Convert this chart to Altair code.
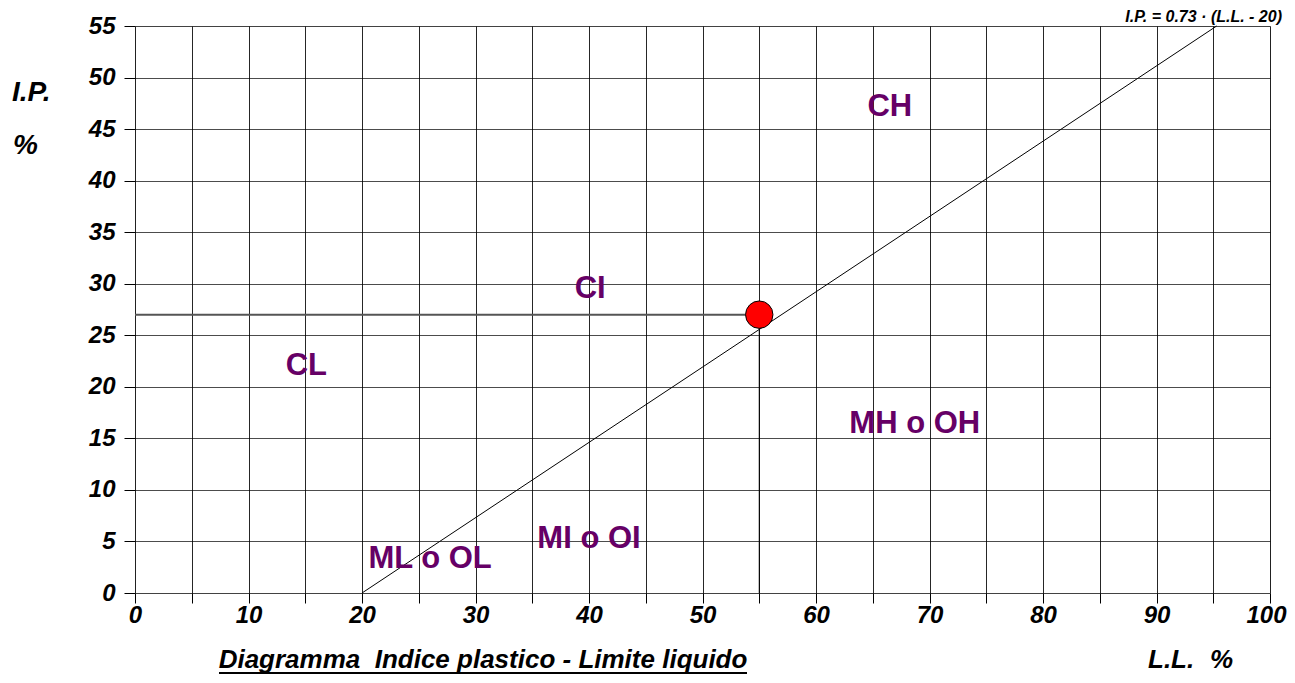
import altair as alt
import pandas as pd

# Casagrande plasticity chart data
a_line_ll = [20, 95.3]
a_line_ip = [0, 55]
sample_ll = [55]
sample_ip = [27]
zone_labels = ["CH", "CI", "CL", "MH o OH", "MI o OI", "ML o OL"]
zone_ll = [66.5, 40.1, 15.1, 68.7, 40.0, 26.0]
zone_ip = [47.1, 29.5, 22.0, 16.4, 5.2, 3.3]
x_ticks = list(range(0, 101, 5))
y_ticks = [i * 2.5 for i in range(0, 23)]

W, H = 1135, 567
FONT = "Liberation Sans"
PURPLE = "#660066"

xs = alt.Scale(domain=[0, 100], nice=False, zero=False)
ys = alt.Scale(domain=[0, 55], nice=False, zero=False)

x_axis = alt.Axis(values=x_ticks, grid=True, gridColor="#000", gridWidth=1, gridOpacity=0.85,
                  tickColor="#000", tickSize=10, tickWidth=1, domain=False,
                  labelExpr="datum.value % 10 == 0 ? datum.label : ''",
                  labelFont=FONT, labelFontSize=24, labelFontWeight="bold", labelFontStyle="italic",
                  labelColor="#000", labelPadding=0, title=None, labelFlush=False, labelOverlap=False,
                  labelAlign={"condition": {"test": "datum.value == 100", "value": "right"}, "value": "center"},
                  labelOffset={"condition": {"test": "datum.value == 100", "value": 16}, "value": 0})
y_axis = alt.Axis(values=y_ticks, grid=True, gridColor="#000", gridWidth=1, gridOpacity=0.7,
                  tickColor="#000", tickSize=11, tickWidth=1, domain=False,
                  labelExpr="datum.value % 5 == 0 ? datum.label : ''",
                  labelFont=FONT, labelFontSize=24, labelFontWeight="bold", labelFontStyle="italic",
                  labelColor="#000", labelPadding=9, title=None, labelFlush=False, labelOverlap=False)

aline_df = pd.DataFrame({"ll": a_line_ll, "ip": a_line_ip})
aline = alt.Chart(aline_df).mark_line(color="#000", strokeWidth=1).encode(
    x=alt.X("ll:Q", scale=xs, axis=x_axis),
    y=alt.Y("ip:Q", scale=ys, axis=y_axis),
)

pt_df = pd.DataFrame({"ll": sample_ll, "ip": sample_ip, "zero": [0]})
hline = alt.Chart(pt_df).mark_rule(color="#555", strokeWidth=2).encode(
    x=alt.X("zero:Q", scale=xs), x2="ll:Q", y=alt.Y("ip:Q", scale=ys))
vline = alt.Chart(pt_df).mark_rule(color="#000", strokeWidth=1).encode(
    x=alt.X("ll:Q", scale=xs), y=alt.Y("zero:Q", scale=ys), y2="ip:Q")
point = alt.Chart(pt_df).mark_point(filled=True, shape="circle", size=750, fill="#ff0000",
                                     stroke="#000", strokeWidth=1, opacity=1).encode(
    x=alt.X("ll:Q", scale=xs), y=alt.Y("ip:Q", scale=ys))

lab_df = pd.DataFrame({"t": zone_labels, "ll": zone_ll, "ip": zone_ip})
labels = alt.Chart(lab_df).mark_text(font=FONT, fontSize=31, fontWeight="bold", color=PURPLE,
                                      align="center", baseline="middle").encode(
    x=alt.X("ll:Q", scale=xs), y=alt.Y("ip:Q", scale=ys), text="t:N")

def txt(s, x, y, size=22, align="left", baseline="middle"):
    return alt.Chart(pd.DataFrame({"t": [s]})).mark_text(
        font=FONT, fontSize=size, fontWeight="bold", fontStyle="italic", color="#000",
        align=align, baseline=baseline).encode(x=alt.value(x), y=alt.value(y), text="t:N")

# texts outside the plot area (pixel offsets from plot's top-left)
title = txt("Diagramma \u00a0Indice plastico - Limite liquido", 348, 567 + 75, size=26,
            align="center", baseline="alphabetic")
underline = alt.Chart(pd.DataFrame({"a": [0]})).mark_rule(color="#000", strokeWidth=2).encode(
    x=alt.value(84), x2=alt.value(612), y=alt.value(567 + 80))
ll_t = txt("L.L.", 1013, 567 + 75, size=26, baseline="alphabetic")
ll_pct = txt("%", 1075, 567 + 75, size=26, baseline="alphabetic")
ip_t = txt("I.P.", -123, 67, size=28)
ip_pct = txt("%", -122, 120, size=28)
eq = txt("I.P. = 0.73 · (L.L. - 20)", 1147, -9, size=16, align="right", baseline="middle")

chart = alt.layer(aline, hline, vline, point, labels, title, underline, ll_t, ll_pct,
                  ip_t, ip_pct, eq).properties(
    width=W, height=H,
    autosize=alt.AutoSizeParams(type="none"),
    padding={"left": 127, "top": 18, "right": 17, "bottom": 82},
).configure_view(stroke=None).configure(background="#ffffff")

chart.save("out.html", embed_options={"renderer": "svg", "actions": False})
